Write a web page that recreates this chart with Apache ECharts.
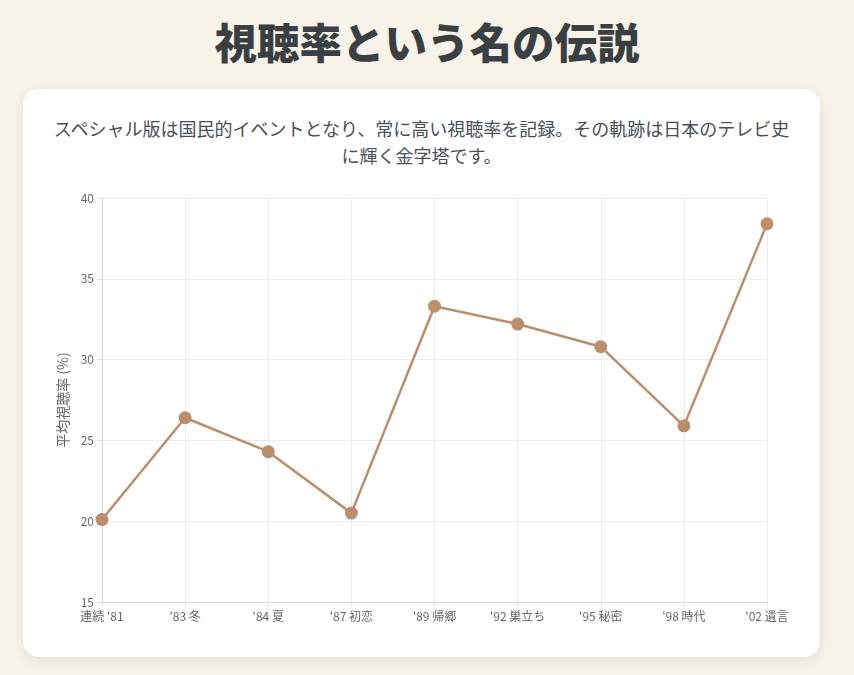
<!DOCTYPE html>
<html><head><meta charset="utf-8">
<script src="https://cdn.jsdelivr.net/npm/echarts@6/dist/echarts.min.js"></script>
<style>
html,body{margin:0;padding:0;}
body{width:854px;height:675px;background:#f7f3e9;font-family:"Noto Sans CJK JP","Noto Sans",sans-serif;position:relative;overflow:hidden;}
h1{position:absolute;left:0;top:12px;width:854px;margin:0;text-align:center;font-size:42.5px;line-height:58px;font-weight:900;color:#3a3f44;}
.card{position:absolute;left:23px;top:89px;width:797px;height:568px;background:#fff;border-radius:16px;box-shadow:0 4px 14px rgba(0,0,0,0.08);}
.card p{position:absolute;left:28px;right:28px;top:26px;margin:0;text-align:center;font-size:18px;line-height:27px;color:#4a5058;}
#chart{position:absolute;left:0;top:0;width:797px;height:568px;}
</style></head>
<body>
<h1>視聴率という名の伝説</h1>
<div class="card">
<p>スペシャル版は国民的イベントとなり、常に高い視聴率を記録。その軌跡は日本のテレビ史に輝く金字塔です。</p>
<div id="chart"></div>
</div>
<script>
const categories = ["連続 '81", "'83 冬", "'84 夏", "'87 初恋", "'89 帰郷", "'92 巣立ち", "'95 秘密", "'98 時代", "'02 遺言"];
const ratings = [20.1, 26.4, 24.3, 20.5, 33.3, 32.2, 30.8, 25.9, 38.4];
const yTicks = {min: 15, max: 40, interval: 5};
const yName = "平均視聴率 (%)";

const chart = echarts.init(document.getElementById('chart'));
const font = '"Noto Sans CJK JP","Noto Sans",sans-serif';
chart.setOption({
  animation: false,
  grid: {left: 79, right: 53, top: 109, bottom: 55},
  xAxis: {
    type: 'category', data: categories, boundaryGap: false,
    axisLine: {lineStyle: {color: '#d6d6d6'}},
    axisTick: {show: true, length: 5, lineStyle: {color: '#e4e4e4'}},
    axisLabel: {color: '#666', fontSize: 12, fontFamily: font, margin: 8},
    splitLine: {show: true, lineStyle: {color: '#ececec'}}
  },
  yAxis: {
    type: 'value', min: yTicks.min, max: yTicks.max, interval: yTicks.interval,
    name: yName, nameLocation: 'middle', nameGap: 30, nameRotate: 90,
    nameTextStyle: {color: '#666', fontSize: 14, fontFamily: font},
    axisLine: {show: true, lineStyle: {color: '#d6d6d6'}},
    axisTick: {show: true, length: 5, lineStyle: {color: '#e4e4e4'}},
    axisLabel: {color: '#666', fontSize: 12, fontFamily: font, margin: 8},
    splitLine: {show: true, lineStyle: {color: '#ececec'}}
  },
  series: [{
    type: 'line', data: ratings,
    symbol: 'circle', symbolSize: 13,
    lineStyle: {color: '#bb8e6d', width: 2.5},
    itemStyle: {color: '#bb8e6d'}
  }]
});
</script>
</body></html>
